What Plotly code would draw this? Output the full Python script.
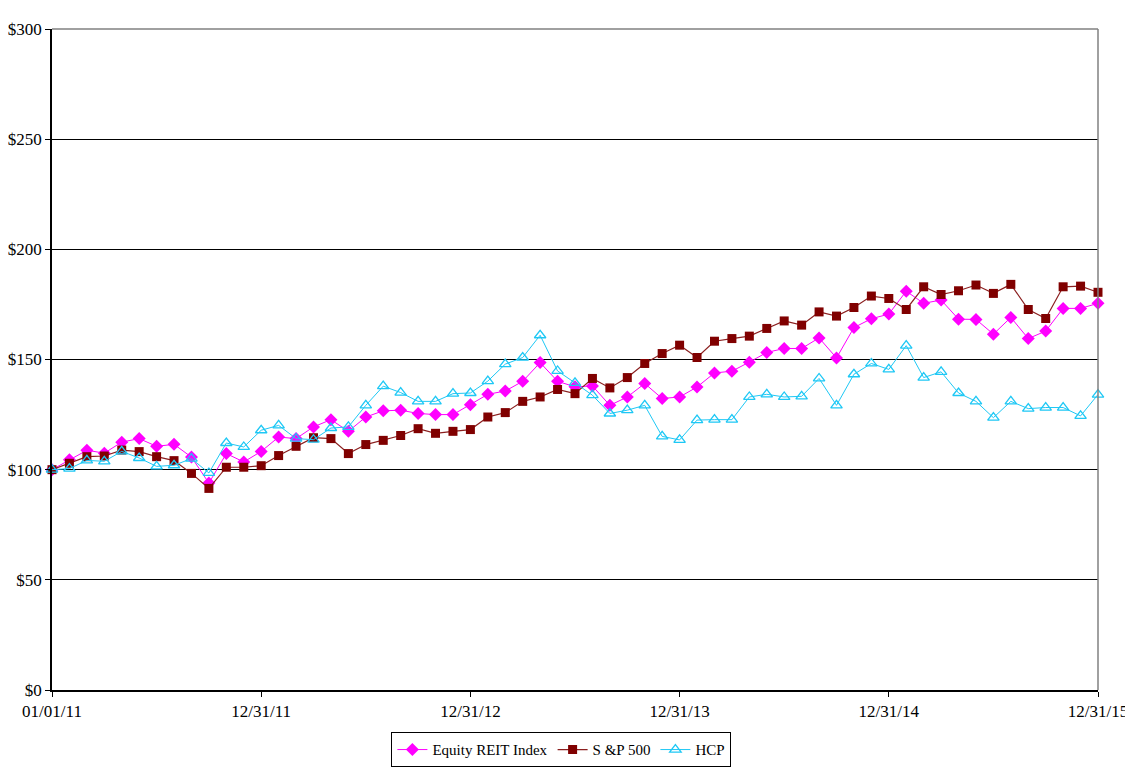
import plotly.graph_objs as go

# Comparison of cumulative total return, 01/01/11 - 12/31/15 (monthly)

months = list(range(61))

equity_reit = [100, 104.5, 108.8, 107.5, 112.5, 114.1, 110.6, 111.5, 105.7, 93.9, 107.3, 103.5, 108.3,
               114.8, 114.1, 119.4, 122.7, 117.4, 123.9, 126.7, 127, 125.5, 125, 125, 129.5,
               134.2, 135.7, 140.1, 148.6, 140.1, 137.6, 138, 129.2, 133, 139.1, 132.3, 133,
               137.5, 143.9, 144.7, 148.8, 153.2, 155, 155, 159.8, 150.7, 164.5, 168.5, 170.6,
               181, 175.5, 177, 168.3, 168.2, 161.5, 169.1, 159.5, 162.9, 173.2, 173.2, 175.5]

sp500 = [100, 102.9, 105.9, 106.2, 108.9, 108.2, 105.9, 104.1, 98.3, 91.5, 101.1, 101.1, 101.8,
         106.4, 110.6, 114.5, 114.1, 107.3, 111.4, 113.3, 115.5, 118.6, 116.5, 117.4, 118.2,
         123.9, 125.9, 131, 133, 136.4, 134.5, 141.4, 137.1, 141.8, 148.2, 152.7, 156.5,
         150.9, 158.3, 159.5, 160.6, 164.1, 167.5, 165.6, 171.6, 169.7, 173.6, 178.8, 177.7,
         172.7, 183, 179.5, 181.2, 183.8, 180, 184.1, 172.7, 168.6, 183, 183.3, 180.5]

hcp = [100, 100.5, 104.2, 103.8, 108.3, 105.3, 101.5, 102, 105, 98.5, 112.1, 110.3, 117.9,
       120.1, 114.1, 113.6, 118.9, 119.4, 129.2, 137.9, 135, 131, 131, 134.5, 134.8,
       140.2, 147.9, 150.9, 161, 144.8, 139.4, 133.8, 125.5, 127, 129.2, 115.1, 113.5,
       122.5, 122.7, 122.7, 133, 134.2, 133, 133.3, 141.4, 129.2, 143.3, 148.2, 145.5,
       156.3, 141.8, 144.4, 134.8, 131, 123.6, 131, 127.7, 128.2, 128.2, 124.4, 134.1]

x_tick_pos = [0, 12, 24, 36, 48, 60]
x_tick_labels = ['01/01/11', '12/31/11', '12/31/12', '12/31/13', '12/31/14', '12/31/15']
y_ticks = [0, 50, 100, 150, 200, 250, 300]
y_tick_labels = ['$0', '$50', '$100', '$150', '$200', '$250', '$300']

fig = go.Figure()
fig.add_trace(go.Scatter(
    x=months, y=equity_reit, name='Equity REIT Index', mode='lines+markers',
    line=dict(color='#FF00FF', width=1),
    marker=dict(symbol='diamond', size=10, color='#FF00FF'),
    cliponaxis=False
))
fig.add_trace(go.Scatter(
    x=months, y=sp500, name='S &P 500', mode='lines+markers',
    line=dict(color='#8B1F1F', width=1.2),
    marker=dict(symbol='square', size=9, color='#800000'),
    cliponaxis=False
))
fig.add_trace(go.Scatter(
    x=months, y=hcp, name='HCP', mode='lines+markers',
    line=dict(color='#1EC8F5', width=1),
    marker=dict(symbol='triangle-up-open', size=10, color='#1EC8F5', line=dict(width=1.3)),
    cliponaxis=False
))

# gray frame on top and right side of the plot area
fig.add_shape(type='line', xref='paper', yref='paper', x0=0, x1=1, y0=1, y1=1,
              line=dict(color='#808080', width=1.5), layer='above')
fig.add_shape(type='line', xref='paper', yref='paper', x0=1, x1=1, y0=0, y1=1,
              line=dict(color='#808080', width=1.5), layer='above')

# page body has an 8px margin, so the figure is a bit smaller than the window
fig.update_layout(
    width=1125, height=762, autosize=False,
    margin=dict(l=44, r=35, t=21, b=80, autoexpand=False),
    paper_bgcolor='white', plot_bgcolor='white',
    font=dict(family='Liberation Serif, Times New Roman, serif', size=17, color='black'),
    xaxis=dict(range=[0, 60], tickmode='array', tickvals=x_tick_pos, ticktext=x_tick_labels,
               showgrid=False, zeroline=False, showline=True, linecolor='black', linewidth=1.5,
               ticks='outside', ticklen=5, tickcolor='black', automargin=False),
    yaxis=dict(range=[0, 300], tickmode='array', tickvals=y_ticks, ticktext=y_tick_labels,
               showgrid=True, gridcolor='black', gridwidth=1.2, zeroline=False,
               showline=True, linecolor='black', linewidth=1.5,
               ticks='outside', ticklen=5, tickcolor='black', automargin=False),
    showlegend=True,
    legend=dict(orientation='h', x=0.487, xanchor='center', y=-0.064, yanchor='top',
                bordercolor='black', borderwidth=1, font=dict(size=15)),
)

fig.write_html("out.html")
